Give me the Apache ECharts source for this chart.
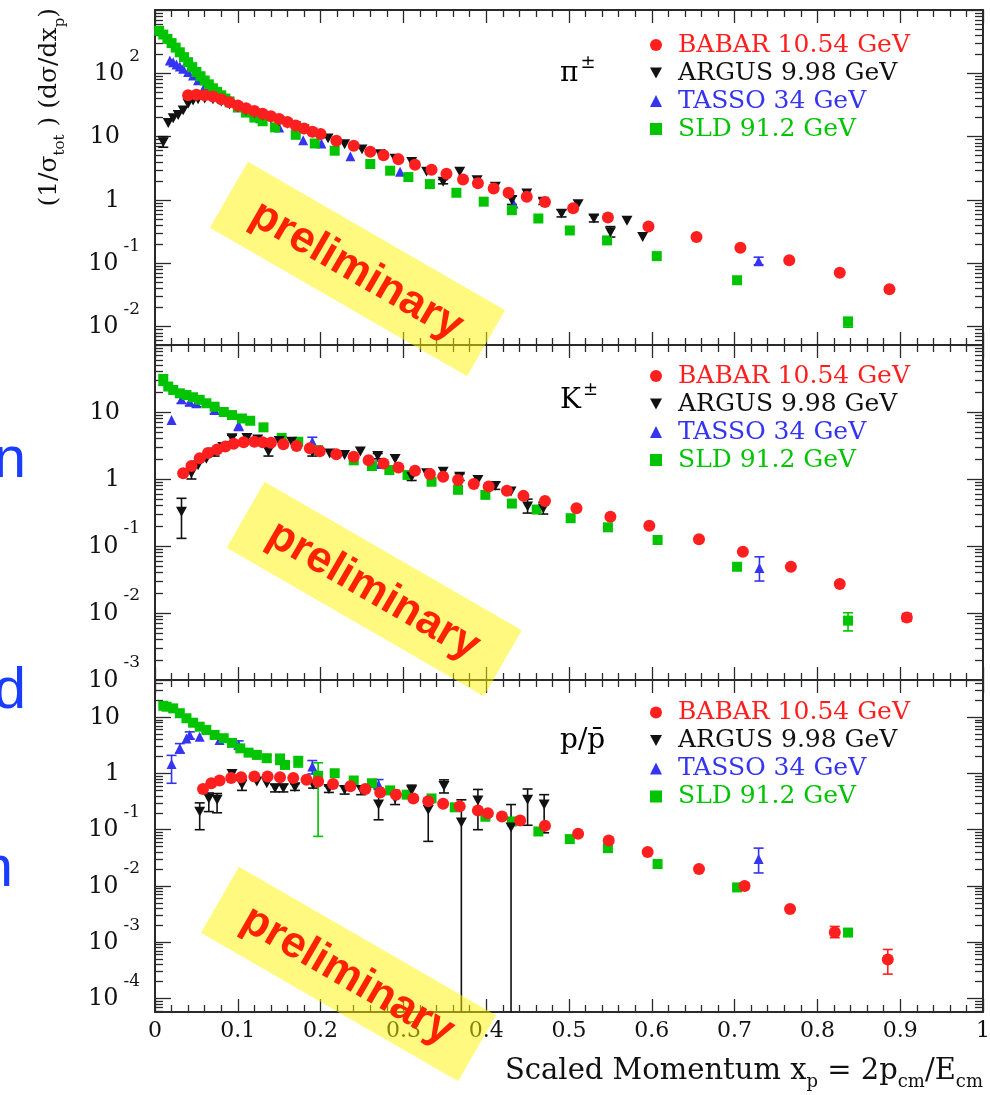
<!DOCTYPE html>
<html><head><meta charset="utf-8">
<script src="https://cdn.jsdelivr.net/npm/echarts@6/dist/echarts.min.js"></script>
<style>html,body{margin:0;padding:0;background:#fff}#c{width:990px;height:1095px}</style>
</head><body><div id="c"></div><script>
// ---------------- data (x_p, 1/sigma dsigma/dx_p) ----------------
const NAMES = ['BABAR 10.54 GeV','ARGUS 9.98 GeV','TASSO 34 GeV','SLD 91.2 GeV'];
const PARTICLES = ['π', 'K', 'p/p\u0304'];
const X_TICKS = [0,0.1,0.2,0.3,0.4,0.5,0.6,0.7,0.8,0.9,1];
const Y_LABELS_PI = [100,10,1,0.1,0.01];
const Y_LABELS_K = [10,1,0.1,0.01,0.001];
const Y_LABELS_P = [10,1,0.1,0.01,0.001,0.0001];

// pi+-
const babarPi = [[0.04,45],[0.05,46],[0.06,45],[0.07,43],[0.08,39],[0.09,35],[0.10,31],[0.11,28],[0.12,25.5],[0.13,23],[0.14,21],[0.15,19],[0.16,17],[0.17,15],[0.18,13.5],[0.19,12],[0.20,11],[0.219,8.6],[0.240,7.2],[0.260,5.8],[0.276,5.1],[0.294,4.4],[0.314,3.6],[0.334,3.0],[0.352,2.6],[0.372,2.1],[0.390,1.83],[0.409,1.52],[0.427,1.30],[0.449,1.12],[0.471,0.93],[0.505,0.74],[0.547,0.53],[0.596,0.38],[0.654,0.26],[0.707,0.176],[0.766,0.112],[0.827,0.071],[0.887,0.039]];
const argusPi = [[0.010,8.2],[0.016,16.4],[0.022,19.5],[0.028,22],[0.034,26],[0.040,33],[0.046,37],[0.052,39],[0.060,40],[0.070,39],[0.080,36],[0.090,32],[0.100,29],[0.110,26],[0.120,23.5],[0.130,21.5],[0.140,19.5],[0.150,17.5],[0.160,16],[0.170,14.5],[0.180,13],[0.190,11.5],[0.209,9.4],[0.229,7.6],[0.250,6.3],[0.272,5.3],[0.290,4.5],[0.310,4.0],[0.328,2.8],[0.348,1.94],[0.368,2.8],[0.389,2.06],[0.411,1.62],[0.431,1.0],[0.449,1.27],[0.469,0.94],[0.491,0.61],[0.511,0.86],[0.530,0.51],[0.550,0.31],[0.570,0.47],[0.589,0.26]];
const tassoPi = [[0.018,160],[0.022,150],[0.026,138],[0.030,128],[0.034,118],[0.040,105],[0.046,92],[0.052,78],[0.060,62],[0.070,50],[0.080,42],[0.090,35],[0.100,29],[0.110,25],[0.127,19.5],[0.150,14],[0.179,8.8],[0.201,7.8],[0.236,4.9],[0.296,2.8],[0.433,0.88],[0.729,0.108]];
const sldPi = [[0.005,470],[0.010,410],[0.015,350],[0.020,300],[0.025,255],[0.030,215],[0.035,180],[0.040,150],[0.045,125],[0.050,105],[0.055,90],[0.060,77],[0.065,67],[0.070,58],[0.075,51],[0.080,45],[0.085,40],[0.090,36],[0.100,29],[0.110,24],[0.120,20],[0.130,17.5],[0.145,14],[0.170,10.7],[0.193,7.8],[0.217,6.0],[0.260,3.7],[0.284,2.9],[0.306,2.3],[0.332,1.78],[0.364,1.30],[0.397,0.94],[0.431,0.69],[0.463,0.51],[0.501,0.33],[0.546,0.23],[0.606,0.13],[0.703,0.054],[0.837,0.012]];
const argusPiErr = [[0.010,6.8,10],[0.348,1.8,2.1],[0.431,0.85,1.15],[0.469,0.85,1.05],[0.491,0.54,0.7],[0.530,0.45,0.58],[0.550,0.26,0.38]];
const tassoPiErr = [[0.729,0.095,0.125]];
const sldPiErr = [[0.837,0.0098,0.014]];

// K+-
const babarK = [[0.034,1.22],[0.044,1.56],[0.054,2.04],[0.064,2.45],[0.075,2.75],[0.085,3.05],[0.095,3.35],[0.107,3.55],[0.12,3.6],[0.13,3.55],[0.14,3.47],[0.155,3.3],[0.171,3.1],[0.187,2.88],[0.199,2.6],[0.219,2.35],[0.240,2.14],[0.258,1.9],[0.276,1.71],[0.294,1.49],[0.314,1.33],[0.332,1.19],[0.348,1.08],[0.366,0.97],[0.385,0.84],[0.403,0.77],[0.425,0.67],[0.445,0.56],[0.471,0.47],[0.509,0.366],[0.550,0.274],[0.597,0.20],[0.657,0.126],[0.710,0.082],[0.768,0.049],[0.827,0.027],[0.908,0.0086]];
const argusK = [[0.032,0.325],[0.044,1.22],[0.052,1.6],[0.062,2.0],[0.072,2.5],[0.082,3.0],[0.093,4.05],[0.111,4.1],[0.124,3.9],[0.137,2.57],[0.150,3.7],[0.165,3.6],[0.190,2.5],[0.211,2.4],[0.229,2.28],[0.248,2.57],[0.269,2.2],[0.290,2.0],[0.310,1.08],[0.328,1.22],[0.348,1.29],[0.368,1.08],[0.390,0.97],[0.411,0.79],[0.430,0.65],[0.450,0.39],[0.469,0.365]];
const tassoK = [[0.020,7.6],[0.032,15.5],[0.042,14.2],[0.050,13.5],[0.072,10.7],[0.101,6.4],[0.190,3.6],[0.272,1.68],[0.730,0.047]];
const sldK = [[0.010,30],[0.016,24],[0.022,21.3],[0.030,19],[0.038,17.9],[0.046,16.6],[0.054,15.2],[0.062,13.5],[0.072,12.0],[0.083,10],[0.093,9],[0.105,8.0],[0.115,7.4],[0.131,5.9],[0.153,4.1],[0.173,3.6],[0.197,2.7],[0.240,1.9],[0.262,1.56],[0.283,1.36],[0.305,1.15],[0.334,0.91],[0.366,0.69],[0.399,0.58],[0.431,0.43],[0.461,0.35],[0.502,0.26],[0.547,0.19],[0.607,0.123],[0.703,0.049],[0.837,0.0077]];
const babarKErr = [[0.908,0.0075,0.0098]];
const argusKErr = [[0.032,0.13,0.515],[0.044,1.0,1.45],[0.072,2.2,2.8],[0.093,3.6,4.5],[0.137,2.2,3.0],[0.190,2.2,2.9],[0.269,2.0,2.4],[0.310,0.95,1.25],[0.368,0.95,1.2],[0.411,0.7,0.9],[0.450,0.31,0.5],[0.469,0.3,0.45]];
const tassoKErr = [[0.032,13.5,17.5],[0.042,12.5,16],[0.050,12,15],[0.072,9.5,12],[0.101,5.3,7.8],[0.190,3.1,4.2],[0.272,1.55,1.85],[0.730,0.030,0.069]];
const sldKErr = [[0.010,25,36],[0.837,0.0054,0.0101]];

// p / pbar
const babarP = [[0.058,0.53],[0.068,0.67],[0.078,0.75],[0.092,0.83],[0.104,0.86],[0.120,0.88],[0.136,0.88],[0.151,0.86],[0.167,0.83],[0.183,0.77],[0.197,0.72],[0.215,0.65],[0.236,0.59],[0.254,0.53],[0.272,0.46],[0.291,0.42],[0.312,0.36],[0.330,0.32],[0.348,0.29],[0.368,0.26],[0.390,0.22],[0.402,0.197],[0.419,0.172],[0.441,0.146],[0.471,0.117],[0.511,0.085],[0.548,0.064],[0.595,0.040],[0.657,0.020],[0.712,0.010],[0.767,0.0039],[0.821,0.0015],[0.885,0.00049]];
const argusP = [[0.054,0.21],[0.065,0.36],[0.075,0.34],[0.093,0.98],[0.105,0.63],[0.123,0.72],[0.135,0.67],[0.145,0.55],[0.155,0.55],[0.169,0.57],[0.191,0.63],[0.210,0.53],[0.229,0.51],[0.249,0.51],[0.270,0.28],[0.290,0.36],[0.310,0.5],[0.330,0.225],[0.349,0.6],[0.370,0.134],[0.390,0.33],[0.430,0.11],[0.450,0.34],[0.470,0.28]];
const tassoP = [[0.020,1.48],[0.030,2.8],[0.038,4.2],[0.042,4.85],[0.054,4.5],[0.078,3.95],[0.101,3.2],[0.190,1.33],[0.270,0.63],[0.729,0.030]];
const sldP = [[0.010,16],[0.014,15.4],[0.022,14.4],[0.030,11.8],[0.038,9.6],[0.046,8.0],[0.054,6.8],[0.062,5.95],[0.072,4.85],[0.083,4.24],[0.093,3.5],[0.103,2.8],[0.113,2.35],[0.123,2.14],[0.135,1.87],[0.151,1.8],[0.157,1.42],[0.173,1.63],[0.197,0.91],[0.217,1.01],[0.240,0.75],[0.262,0.67],[0.284,0.5],[0.304,0.42],[0.334,0.36],[0.362,0.25],[0.399,0.17],[0.431,0.14],[0.463,0.093],[0.501,0.068],[0.547,0.047],[0.607,0.0245],[0.703,0.0094],[0.837,0.00148]];
const babarPErr = [[0.712,0.0089,0.0113],[0.821,0.0012,0.0019],[0.885,0.00027,0.00074]];
const argusPErr = [[0.054,0.10,0.30],[0.065,0.21,0.45],[0.075,0.2,0.44],[0.105,0.5,0.78],[0.145,0.47,0.64],[0.155,0.47,0.64],[0.169,0.5,0.66],[0.191,0.55,0.72],[0.210,0.46,0.6],[0.229,0.43,0.6],[0.249,0.42,0.6],[0.270,0.15,0.55],[0.290,0.28,0.50],[0.310,0.40,0.62],[0.330,0.062,0.36],[0.349,0.45,0.77],[0.370,0.00001,0.34],[0.390,0.1,0.52],[0.430,0.00001,0.28],[0.450,0.12,0.53],[0.470,0.088,0.42]];
const tassoPErr = [[0.020,0.67,2.1],[0.030,2.3,3.4],[0.042,4.1,5.5],[0.101,2.7,3.8],[0.190,0.98,1.7],[0.270,0.52,0.78],[0.729,0.017,0.047]];
const sldPErr = [[0.135,1.6,2.1],[0.151,1.45,2.2],[0.173,1.3,2.0],[0.197,0.076,1.55]];

// ---------------- styling ----------------
const FONT = "'DejaVu Serif', serif";
const COLORS = ['#ff1f1f','#111111','#3434f2','#00c400'];
const DOWN_TRI = 'path://M0,0L10,0L5,9Z';
const SYMBOLS = ['circle',DOWN_TRI,'triangle','rect'];
const LEGEND_ICONS = ['circle',DOWN_TRI,'triangle','rect'];
const SIZES = [12,11,10,10];
const ZS = [6,5,3,4];
const AXC = '#2a2a2a';

const PANELS = [
  {top:10,  height:335, ymin:Math.pow(10,-2.29),  ymax:1000, labels:Y_LABELS_PI, data:[babarPi,argusPi,tassoPi,sldPi], err:[[],argusPiErr,tassoPiErr,sldPiErr], legendTop:32.5},
  {top:345, height:335, ymin:0.001, ymax:100, labels:Y_LABELS_K, data:[babarK,argusK,tassoK,sldK], err:[babarKErr,argusKErr,tassoKErr,sldKErr], legendTop:363.5},
  {top:680, height:332, ymin:Math.pow(10,-4.243), ymax:Math.pow(10,1.663), labels:Y_LABELS_P, data:[babarP,argusP,tassoP,sldP], err:[babarPErr,argusPErr,tassoPErr,sldPErr], legendTop:700}
];

const xMinor = []; for (let i = 1; i < 50; i++) { if (i % 5) xMinor.push(+(i*0.02).toFixed(2)); }
function logMajor(a,b){const o=[];for(let n=-6;n<=4;n++){const v=Number('1e'+n);if(v>=a*0.999&&v<=b*1.001)o.push(v);}return o;}
function logMinor(a,b){const o=[];for(let n=-6;n<=4;n++){for(let k=2;k<=9;k++){const v=Number(k+'e'+n);if(v>=a&&v<=b)o.push(v);}}return o;}

const yRich = {
  b:{fontFamily:FONT,fontSize:24,color:'#111',lineHeight:38,verticalAlign:'bottom'},
  s:{fontFamily:FONT,fontSize:17,color:'#111',lineHeight:38,verticalAlign:'top',padding:[0,0,0,5]},
  p:{fontFamily:FONT,fontSize:24,color:'#111',lineHeight:38,verticalAlign:'bottom',padding:[0,20,0,0]}
};
function yFmt(v){const n=Math.round(Math.log10(v)); if(n===0) return '{p|1}'; if(n===1) return '{p|10}'; return '{b|10}{s|'+(n<0?'-':'')+Math.abs(n)+'}';}

const grid=[], xAxis=[], yAxis=[], series=[], legend=[];
PANELS.forEach((P,pi)=>{
  grid.push({left:155, width:828, top:P.top, height:P.height, outerBoundsMode:'none'});
  const lineOn={show:true,onZero:false,lineStyle:{color:AXC,width:2}};
  const lineOff={show:false,onZero:false};
  const tk=(len,vals)=>({show:true,inside:true,length:len,customValues:vals,lineStyle:{color:AXC,width:1.3}});
  const xb={type:'value',gridIndex:pi,min:0,max:1,splitLine:{show:false},axisLabel:{show:false}};
  const xMain={...xb,position:'bottom',axisLine:lineOn,axisTick:tk(13,X_TICKS)};
  if(pi===2){
    xMain.axisLabel={show:true,customValues:X_TICKS,margin:8,fontFamily:FONT,fontSize:22,color:'#111',formatter:v=>String(Math.round(v*10)/10)};
    xMain.name='{b|Scaled Momentum x}{s|p}{b| = 2p}{s|cm}{b|/E}{s|cm}';
    xMain.nameLocation='end'; xMain.nameGap=0;
    xMain.nameTextStyle={align:'right',verticalAlign:'top',padding:[45,0,0,0],rich:{
      b:{fontFamily:FONT,fontSize:29,color:'#111',lineHeight:34,verticalAlign:'top'},
      s:{fontFamily:FONT,fontSize:18,color:'#111',lineHeight:34,verticalAlign:'bottom'}}};
  }
  xAxis.push(xMain);
  xAxis.push({...xb,position:'bottom',axisLine:lineOff,axisTick:tk(7,xMinor)});
  xAxis.push({...xb,position:'top',axisLine:lineOn,axisTick:tk(13,X_TICKS)});
  xAxis.push({...xb,position:'top',axisLine:lineOff,axisTick:tk(7,xMinor)});
  const maj=logMajor(P.ymin,P.ymax), mnr=logMinor(P.ymin,P.ymax);
  const yb={type:'log',logBase:10,gridIndex:pi,min:P.ymin,max:P.ymax,splitLine:{show:false},axisLabel:{show:false}};
  const yMain={...yb,position:'left',axisLine:lineOn,axisTick:tk(16,maj),
    axisLabel:{show:true,customValues:P.labels,margin:15,padding:[0,0,13,0],formatter:yFmt,rich:yRich}};
  if(pi===0){
    yMain.name='{b|(1/σ}{s|tot}{b| ) (dσ/dx}{s|p}{b|)}';
    yMain.nameLocation='end'; yMain.nameGap=2; yMain.nameRotate=90;
    yMain.nameTextStyle={align:'right',verticalAlign:'bottom',padding:[0,0,87,0],rich:{
      b:{fontFamily:FONT,fontSize:25,color:'#111',lineHeight:31,verticalAlign:'top'},
      s:{fontFamily:FONT,fontSize:15,color:'#111',lineHeight:31,verticalAlign:'bottom'}}};
  }
  yAxis.push(yMain);
  yAxis.push({...yb,position:'left',axisLine:lineOff,axisTick:tk(8,mnr)});
  yAxis.push({...yb,position:'right',axisLine:lineOn,axisTick:tk(16,maj)});
  yAxis.push({...yb,position:'right',axisLine:lineOff,axisTick:tk(8,mnr)});

  // error bars
  P.err.forEach((arr,k)=>{
    if(!arr.length) return;
    const color=COLORS[k]; const ymin=P.ymin, ymax=P.ymax;
    series.push({type:'custom',name:NAMES[k]+' errors',xAxisIndex:pi*4,yAxisIndex:pi*4,z:2,silent:true,
      data:arr,
      renderItem:(params,api)=>{
        const x=api.value(0); let lo=api.value(1), hi=api.value(2);
        const loC=lo<ymin, hiC=hi>ymax; lo=Math.max(lo,ymin); hi=Math.min(hi,ymax);
        const a=api.coord([x,lo]), b=api.coord([x,hi]); const w=5;
        const st={stroke:color,lineWidth:1.6};
        const ch=[{type:'line',shape:{x1:a[0],y1:a[1],x2:b[0],y2:b[1]},style:st}];
        if(!loC) ch.push({type:'line',shape:{x1:a[0]-w,y1:a[1],x2:a[0]+w,y2:a[1]},style:st});
        if(!hiC) ch.push({type:'line',shape:{x1:b[0]-w,y1:b[1],x2:b[0]+w,y2:b[1]},style:st});
        return {type:'group',children:ch};
      }});
  });
  // markers
  [2,3,1,0].forEach(k=>{
    series.push({type:'scatter',name:NAMES[k],xAxisIndex:pi*4,yAxisIndex:pi*4,z:ZS[k],silent:true,
      symbol:SYMBOLS[k],symbolSize:SIZES[k],symbolKeepAspect:true,
      itemStyle:{color:COLORS[k],opacity:1},data:P.data[k]});
  });
  legend.push({orient:'vertical',left:650,top:P.legendTop,itemWidth:12,itemHeight:12,itemGap:3,padding:0,
    selectedMode:false,symbolRotate:0,
    data:NAMES.map((n,k)=>({name:n,icon:LEGEND_ICONS[k],textStyle:{color:COLORS[k]}})),
    textStyle:{fontFamily:FONT,fontSize:25,lineHeight:24,rich:{t:{padding:[0,0,0,11]}}},
    formatter:n=>'{t|'+n+'}'});
});

const BLUE='#1a3cff';
const graphic=[
  {type:'text',x:26,y:461,style:{text:'n',font:'58px "Liberation Sans"',fill:BLUE,align:'right',textAlign:'right',verticalAlign:'middle',textVerticalAlign:'middle'}},
  {type:'text',x:26,y:692,style:{text:'d',font:'58px "Liberation Sans"',fill:BLUE,align:'right',textAlign:'right',verticalAlign:'middle',textVerticalAlign:'middle'}},
  {type:'text',x:13,y:870,style:{text:'n',font:'58px "Liberation Sans"',fill:BLUE,align:'right',textAlign:'right',verticalAlign:'middle',textVerticalAlign:'middle'}}
];
const pRich={b:{fontFamily:FONT,fontSize:28,color:'#111',lineHeight:34,verticalAlign:'bottom'},s:{fontFamily:FONT,fontSize:18,color:'#111',lineHeight:34,verticalAlign:'top',padding:[0,0,0,2]}};
[['{b|'+PARTICLES[0]+'}{s|±}',560,71],['{b|'+PARTICLES[1]+'}{s|±}',560,398],['{b|'+PARTICLES[2]+'}',560,738]].forEach(t=>{
  graphic.push({type:'text',x:t[1],y:t[2],z:50,style:{text:t[0],rich:pRich,align:'left',textAlign:'left',verticalAlign:'middle',textVerticalAlign:'middle'}});
});
[[357.5,269],[374.2,589],[348.5,974]].forEach(c=>{
  graphic.push({type:'group',x:c[0],y:c[1],rotation:-Math.PI/6,z:100,children:[
    {type:'rect',z:100,shape:{x:-148.5,y:-38,width:297,height:76},style:{fill:'rgba(255,245,0,0.5)'}},
    {type:'text',z:101,x:0,y:2,style:{text:'preliminary',font:'bold 44px "Liberation Sans"',fill:'#ff2200',align:'center',textAlign:'center',verticalAlign:'middle',textVerticalAlign:'middle'}}
  ]});
});

const chart=echarts.init(document.getElementById('c'),null,{renderer:'canvas'});
chart.setOption({animation:false,backgroundColor:'#fff',grid,xAxis,yAxis,series,legend,graphic});
</script></body></html>
